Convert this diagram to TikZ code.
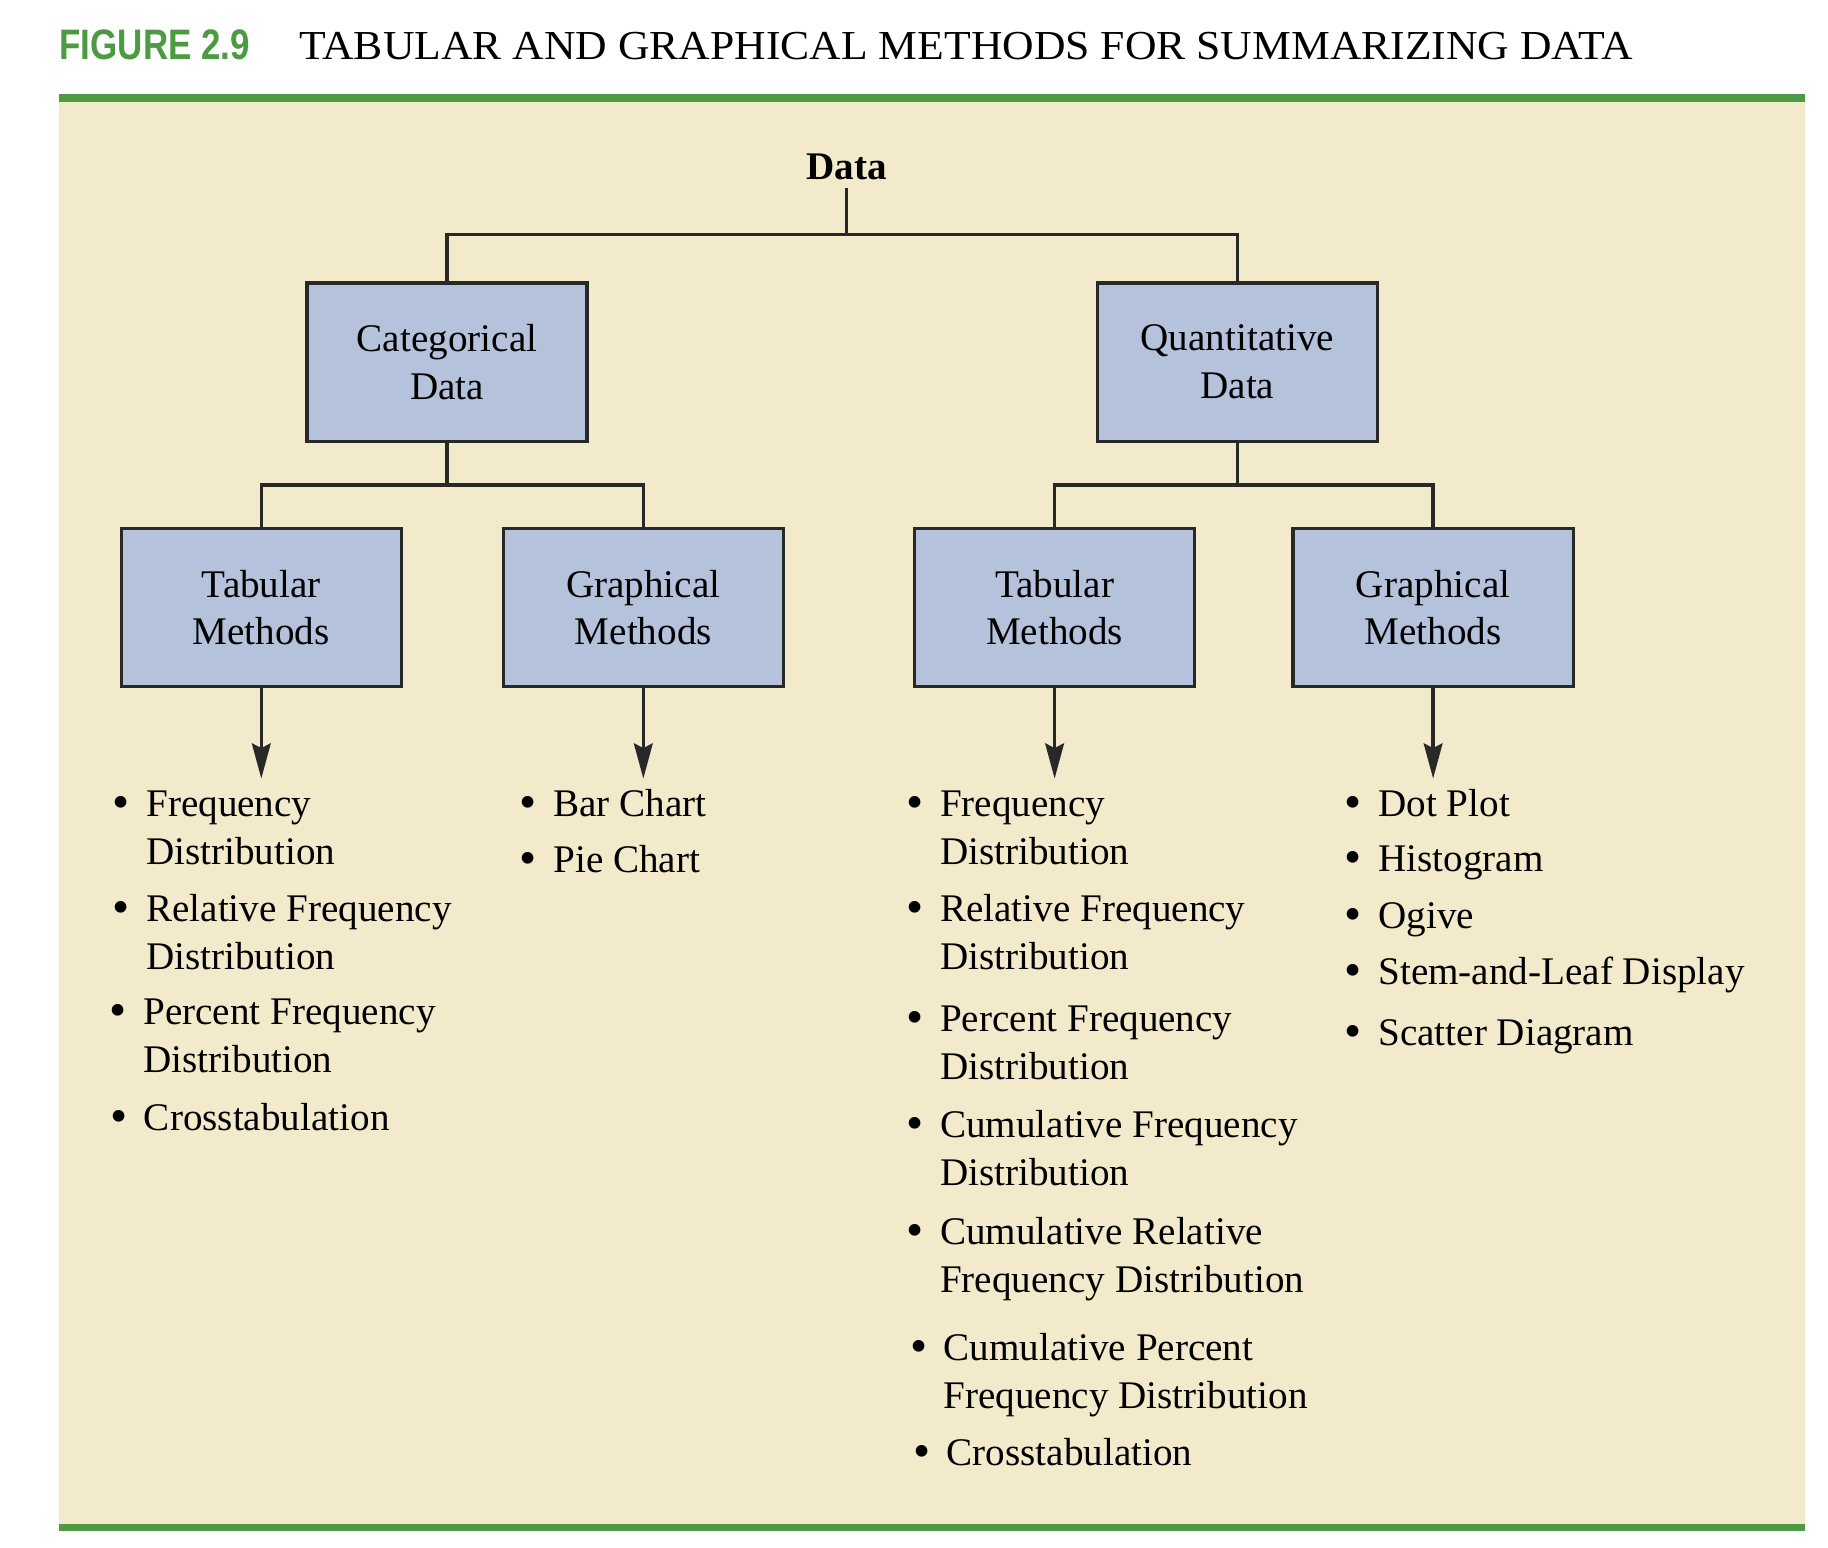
\documentclass[tikz,border=0pt]{standalone}
\usepackage{fontspec}
\setmainfont{Liberation Serif}
\newfontfamily\figfont[FakeStretch=0.82]{Liberation Sans}
\newfontfamily\titfont[FakeStretch=1.06]{Liberation Serif}
\usepackage{tikz}
\usetikzlibrary{arrows.meta,positioning}
\definecolor{verdefig}{RGB}{76,154,66}
\definecolor{sabbia}{RGB}{243,233,203}
\definecolor{azzurrino}{RGB}{180,194,219}
\definecolor{grigioscuro}{RGB}{40,40,40}
\tikzstyle{scatola} = [rectangle,minimum width=4.78cm,minimum height=2.7cm,text centered,align=center,draw=grigioscuro,line width=1.6pt,fill=azzurrino,text=black]
\tikzstyle{voce} = [anchor=base west,inner sep=0pt,text=black]
\tikzstyle{linea} = [grigioscuro,line width=1.6pt]
\tikzstyle{freccia} = [linea,-{Stealth[length=0.6cm,width=0.32cm,inset=0.08cm]}]
\tikzstyle{filetto} = [verdefig,line width=0.13cm]
\newcommand{\puntino}[1]{\llap{\raisebox{-1pt}{\scalebox{1.25}{\textbullet}}\hspace{8pt}}\begin{tabular}[t]{@{}l@{}}#1\end{tabular}}

\begin{document}
\begin{tikzpicture}
\tikzstyle{every node}=[font=\fontsize{19}{23.2}\selectfont]

% 1px = 0.02cm
\useasboundingbox (0,0) rectangle (31.2,-26.42);
\fill[white] (0,0) rectangle (31.2,-26.42);
\fill[sabbia] (1.0,-1.7) rectangle (30.8,-26.05);
\draw[filetto] (1.0,-1.67) -- (30.8,-1.67);
\draw[filetto] (1.0,-26.07) -- (30.8,-26.07);

\node (fig) [anchor=base west,inner sep=0pt,text=verdefig,font=\figfont\bfseries\fontsize{20.7}{24}\selectfont,xshift=1.01cm,yshift=-1.02cm] {FIGURE 2.9};
\node (titolo) [anchor=base west,inner sep=0pt,font=\titfont\fontsize{20}{24}\selectfont,xshift=5.1cm,yshift=-1.02cm] {TABULAR AND GRAPHICAL METHODS FOR SUMMARIZING DATA};

\node (dati) [anchor=base,xshift=14.45cm,yshift=-3.07cm] {\textbf{Data}};

\node (cat)   [scatola,xshift=7.63cm,yshift=-6.18cm] {Categorical\\Data};
\node (quant) [scatola,xshift=21.12cm,yshift=-6.18cm] {Quantitative\\Data};

\node (tab1) [scatola,xshift=4.46cm,yshift=-10.37cm] {Tabular\\Methods};
\node (gra1) [scatola,xshift=10.98cm,yshift=-10.37cm] {Graphical\\Methods};
\node (tab2) [scatola,xshift=18.0cm,yshift=-10.37cm] {Tabular\\Methods};
\node (gra2) [scatola,xshift=24.46cm,yshift=-10.37cm] {Graphical\\Methods};

\coordinate [below=0.8cm of dati] (snodo);
\coordinate [below=0.72cm of cat] (ncat);
\coordinate [below=0.72cm of quant] (nquant);
\coordinate [below=1.54cm of tab1] (p1);
\coordinate [below=1.54cm of gra1] (p2);
\coordinate [below=1.54cm of tab2] (p3);
\coordinate [below=1.54cm of gra2] (p4);

\node (t1a) [voce,xshift=2.49cm,yshift=-13.94cm] {\puntino{Frequency\\Distribution}};
\node (t1b) [voce,xshift=2.49cm,yshift=-15.73cm] {\puntino{Relative Frequency\\Distribution}};
\node (t1c) [voce,xshift=2.44cm,yshift=-17.49cm] {\puntino{Percent Frequency\\Distribution}};
\node (t1d) [voce,xshift=2.45cm,yshift=-19.30cm] {\puntino{Crosstabulation}};

\node (g1a) [voce,xshift=9.44cm,yshift=-13.94cm] {\puntino{Bar Chart}};
\node (g1b) [voce,xshift=9.44cm,yshift=-14.89cm] {\puntino{Pie Chart}};

\node (t2a) [voce,xshift=16.04cm,yshift=-13.94cm] {\puntino{Frequency\\Distribution}};
\node (t2b) [voce,xshift=16.04cm,yshift=-15.73cm] {\puntino{Relative Frequency\\Distribution}};
\node (t2c) [voce,xshift=16.04cm,yshift=-17.61cm] {\puntino{Percent Frequency\\Distribution}};
\node (t2d) [voce,xshift=16.04cm,yshift=-19.42cm] {\puntino{Cumulative Frequency\\Distribution}};
\node (t2e) [voce,xshift=16.04cm,yshift=-21.24cm] {\puntino{Cumulative Relative\\Frequency Distribution}};
\node (t2f) [voce,xshift=16.10cm,yshift=-23.22cm] {\puntino{Cumulative Percent\\Frequency Distribution}};
\node (t2g) [voce,xshift=16.15cm,yshift=-25.02cm] {\puntino{Crosstabulation}};

\node (g2a) [voce,xshift=23.52cm,yshift=-13.94cm] {\puntino{Dot Plot}};
\node (g2b) [voce,xshift=23.52cm,yshift=-14.88cm] {\puntino{Histogram}};
\node (g2c) [voce,xshift=23.52cm,yshift=-15.84cm] {\puntino{Ogive}};
\node (g2d) [voce,xshift=23.52cm,yshift=-16.81cm] {\puntino{Stem-and-Leaf Display}};
\node (g2e) [voce,xshift=23.52cm,yshift=-17.84cm] {\puntino{Scatter Diagram}};

\draw[linea] (dati) -- (snodo);
\draw[linea] (snodo) -| (cat);
\draw[linea] (snodo) -| (quant);

\draw[linea] (cat) -- (ncat);
\draw[linea] (ncat) -| (tab1);
\draw[linea] (ncat) -| (gra1);
\draw[linea] (quant) -- (nquant);
\draw[linea] (nquant) -| (tab2);
\draw[linea] (nquant) -| (gra2);

\draw[freccia] (tab1) -- (p1);
\draw[freccia] (gra1) -- (p2);
\draw[freccia] (tab2) -- (p3);
\draw[freccia] (gra2) -- (p4);

\end{tikzpicture}
\end{document}
